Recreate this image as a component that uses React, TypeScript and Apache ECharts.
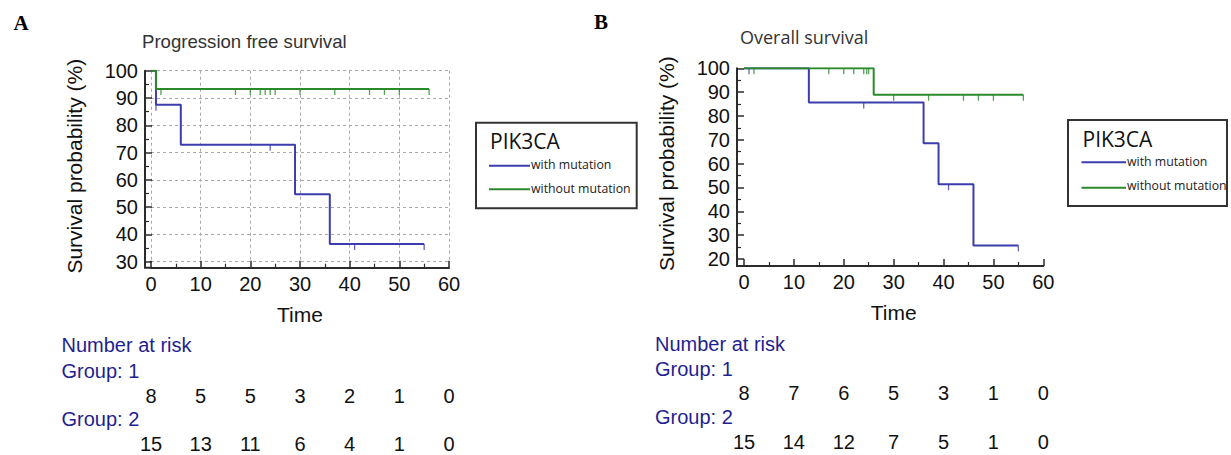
import React, { useEffect, useRef } from "react";
import * as echarts from "echarts";

// ---- data ----
const xTicks = [0, 10, 20, 30, 40, 50, 60];

// Panel A: Progression free survival
const pfsMutTimes = [0, 1, 6, 29, 36, 55];
const pfsMutSurv = [100, 87.5, 72.9, 54.7, 36.5, 36.5];
const pfsMutCensor = [1, 24, 41, 55];
const pfsWildTimes = [0, 1, 56];
const pfsWildSurv = [100, 93.3, 93.3];
const pfsWildCensor = [2, 17, 20, 22, 23, 24, 25, 30, 37, 44, 47, 50, 56];
const pfsRiskG1 = [8, 5, 5, 3, 2, 1, 0];
const pfsRiskG2 = [15, 13, 11, 6, 4, 1, 0];

// Panel B: Overall survival
const osMutTimes = [0, 13, 36, 39, 46, 55];
const osMutSurv = [100, 85.7, 68.6, 51.4, 25.7, 25.7];
const osMutCensor = [1, 24, 41, 55];
const osWildTimes = [0, 26, 56];
const osWildSurv = [100, 88.9, 88.9];
const osWildCensor = [2, 17, 20, 22, 24, 24.6, 25, 30, 37, 44, 47, 50, 56];
const osRiskG1 = [8, 7, 6, 5, 3, 1, 0];
const osRiskG2 = [15, 14, 12, 7, 5, 1, 0];

const BLUE = "#3c3cae";
const GREEN = "#2a8a2a";
const AXIS = "#2b2b2b";
const RISK_BLUE = "#1f1f8f";
const SANS = "Liberation Sans";
const UI = "Open Sans";

function stepAt(times: number[], surv: number[], t: number) {
  let v = surv[0];
  for (let i = 0; i < times.length; i++) if (times[i] <= t) v = surv[i];
  return v;
}

function curve(times: number[], surv: number[]) {
  return times.map((t, i) => [t, surv[i]]);
}

function censor(times: number[], surv: number[], c: number[]) {
  return c.map((t) => [t, stepAt(times, surv, t)]);
}

function xAxisCfg(gridIndex: number, offset: number, split: boolean) {
  return {
    type: "value",
    gridIndex,
    min: 0,
    max: 60,
    interval: 10,
    offset,
    name: "Time",
    nameLocation: "middle",
    nameGap: 36,
    nameTextStyle: { fontFamily: SANS, fontSize: 21, color: "#111" },
    axisLine: { show: true, onZero: false, lineStyle: { color: AXIS, width: 2 } },
    axisTick: { show: true, inside: true, length: 7, lineStyle: { color: AXIS, width: 1.5 } },
    minorTick: { show: true, splitNumber: 2, length: 4, lineStyle: { color: AXIS, width: 1.2 } },
    axisLabel: { fontFamily: SANS, fontSize: 20, color: "#111", margin: 6 },
    splitLine: { show: split, lineStyle: { type: [3, 3], color: "#a8a8a8", width: 1 } },
  };
}

function yAxisCfg(gridIndex: number, min: number, offset: number, split: boolean) {
  return {
    type: "value",
    gridIndex,
    min,
    max: 100,
    interval: 10,
    offset,
    name: "Survival probability (%)",
    nameLocation: "middle",
    nameGap: 60,
    nameTextStyle: { fontFamily: SANS, fontSize: 21, color: "#111" },
    axisLine: { show: true, onZero: false, lineStyle: { color: AXIS, width: 2 } },
    axisTick: { show: true, inside: true, length: 7, lineStyle: { color: AXIS, width: 1.5 } },
    minorTick: { show: true, splitNumber: 2, length: 4, lineStyle: { color: AXIS, width: 1.2 } },
    axisLabel: { fontFamily: SANS, fontSize: 20, color: "#111", margin: 7 },
    splitLine: { show: split, lineStyle: { type: [3, 3], color: "#a8a8a8", width: 1 } },
  };
}

function lineSeries(idx: number, data: number[][], color: string) {
  return {
    type: "line",
    xAxisIndex: idx,
    yAxisIndex: idx,
    step: "end",
    data,
    symbol: "none",
    lineStyle: { color, width: 2 },
    silent: true,
  };
}

function censorSeries(idx: number, data: number[][], color: string) {
  return {
    type: "scatter",
    xAxisIndex: idx,
    yAxisIndex: idx,
    data,
    symbol: "rect",
    symbolSize: [1.3, 6],
    symbolOffset: [0, 3],
    itemStyle: { color },
    silent: true,
  };
}

function txt(text: string, x: number, y: number, font: string, fill: string, align = "left") {
  return {
    type: "text",
    silent: true,
    style: { text, x, y, font, fill, align, verticalAlign: "middle" },
  };
}

export default function App() {
  const ref = useRef<HTMLDivElement>(null);

  useEffect(() => {
    document.body.style.margin = "0";
    const chart = echarts.init(ref.current!, null, { renderer: "svg" });
    const offA = 6;
    const offB = 7;
    chart.setOption({
      animation: false,
      backgroundColor: "#ffffff",
      grid: [
        { left: 151, top: 70.7, width: 298, height: 191 },
        { left: 744, top: 68.3, width: 299.3, height: 190.7 },
      ],
      xAxis: [xAxisCfg(0, offA, true), xAxisCfg(1, offB, false)],
      yAxis: [yAxisCfg(0, 30, offA, true), yAxisCfg(1, 20, offB, false)],
      series: [
        lineSeries(0, curve(pfsMutTimes, pfsMutSurv), BLUE),
        censorSeries(0, censor(pfsMutTimes, pfsMutSurv, pfsMutCensor), BLUE),
        lineSeries(0, curve(pfsWildTimes, pfsWildSurv), GREEN),
        censorSeries(0, censor(pfsWildTimes, pfsWildSurv, pfsWildCensor), GREEN),
        lineSeries(1, curve(osMutTimes, osMutSurv), BLUE),
        censorSeries(1, censor(osMutTimes, osMutSurv, osMutCensor), BLUE),
        lineSeries(1, curve(osWildTimes, osWildSurv), GREEN),
        censorSeries(1, censor(osWildTimes, osWildSurv, osWildCensor), GREEN),
      ],
    });

    const g: any[] = [];
    // panel letters and titles
    g.push(txt("A", 21, 23, 'bold 21px "Liberation Serif"', "#000", "center"));
    g.push(txt("B", 601, 22, 'bold 21px "Liberation Serif"', "#000", "center"));
    g.push(txt("Progression free survival", 142, 41, `18.6px "${SANS}"`, "#333"));
    g.push(txt("Overall survival", 740, 37, `18px "${UI}"`, "#333"));

    // corner joins for offset axes + risk tables
    const panels = [
      { idx: 0, off: offA, ymin: 30, g1: pfsRiskG1, g2: pfsRiskG2, left: 61.5, ys: [345, 370.5, 395.5, 419, 443.5] },
      { idx: 1, off: offB, ymin: 20, g1: osRiskG1, g2: osRiskG2, left: 655, ys: [344, 368.5, 393, 417, 441.5] },
    ];
    panels.forEach((p) => {
      const o = chart.convertToPixel({ gridIndex: p.idx }, [0, p.ymin]) as number[];
      g.push({
        type: "polyline",
        silent: true,
        shape: { points: [[o[0] - p.off, o[1] - 1], [o[0] - p.off, o[1] + p.off], [o[0] + 1, o[1] + p.off]] },
        style: { stroke: AXIS, lineWidth: 2, fill: null },
      });
      g.push(txt("Number at risk", p.left, p.ys[0], `20px "${SANS}"`, RISK_BLUE));
      g.push(txt("Group: 1", p.left, p.ys[1], `20px "${SANS}"`, RISK_BLUE));
      g.push(txt("Group: 2", p.left, p.ys[3], `20px "${SANS}"`, RISK_BLUE));
      xTicks.forEach((t, i) => {
        const px = (chart.convertToPixel({ gridIndex: p.idx }, [t, p.ymin]) as number[])[0];
        g.push(txt(String(p.g1[i]), px, p.ys[2], `20px "${SANS}"`, "#111", "center"));
        g.push(txt(String(p.g2[i]), px, p.ys[4], `20px "${SANS}"`, "#111", "center"));
      });
    });

    // legends
    const legends = [
      { x0: 476, y0: 122.7, x1: 636.7, y1: 208.3, tx: 490, ty: 141, lx0: 489, lx1: 530, ly: [165.7, 189.3], txy: [164, 188] },
      { x0: 1068, y0: 120, x1: 1227, y1: 206, tx: 1082.5, ty: 138.5, lx0: 1081.5, lx1: 1126, ly: [162.3, 187.7], txy: [161.5, 185.5] },
    ];
    legends.forEach((l) => {
      g.push({
        type: "rect",
        silent: true,
        shape: { x: l.x0, y: l.y0, width: l.x1 - l.x0, height: l.y1 - l.y0 },
        style: { stroke: "#333", lineWidth: 2, fill: "#fff" },
      });
      g.push(txt("PIK3CA", l.tx, l.ty, `21px "${UI}"`, "#111"));
      [BLUE, GREEN].forEach((c, i) => {
        g.push({
          type: "line",
          silent: true,
          shape: { x1: l.lx0, y1: l.ly[i], x2: l.lx1, y2: l.ly[i] },
          style: { stroke: c, lineWidth: 2 },
        });
      });
      g.push(txt("with mutation", l.lx1 + 1, l.txy[0], `12.3px "${UI}"`, "#222"));
      g.push(txt("without mutation", l.lx1 + 1, l.txy[1], `12.3px "${UI}"`, "#222"));
    });

    chart.setOption({ graphic: g });
    return () => chart.dispose();
  }, []);

  return (
    <div
      ref={ref}
      style={{ position: "fixed", left: 0, top: 0, width: 1231, height: 455, background: "#fff" }}
    />
  );
}
